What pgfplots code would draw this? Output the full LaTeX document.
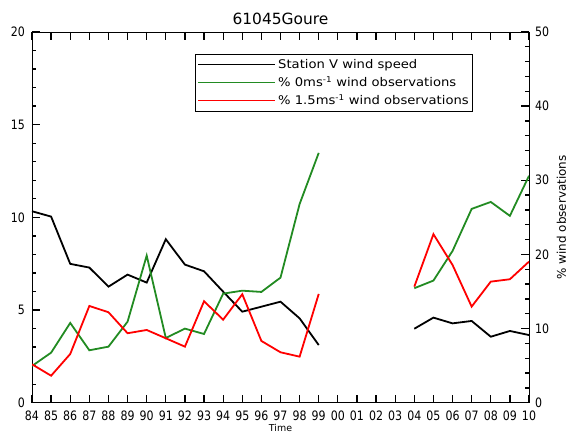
\documentclass[border=0pt]{standalone}
\usepackage{fontspec}
\setmainfont{DejaVu Sans}
\newfontfamily\legfont[FakeStretch=1.1]{DejaVu Sans}
\newfontfamily\tickfont[FakeStretch=0.85]{DejaVu Sans}
\usepackage{pgfplots}
\pgfplotsset{compat=1.18}
\definecolor{grn}{RGB}{34,139,34}
\pgfplotsset{
  mytick/.style={
    tick align=inside,
    major tick length=8bp, minor tick length=4.5bp,
    axis line style={line width=0.9bp},
    every tick/.append style={line width=1.3bp, black, draw=black},
    every major tick/.append style={line width=1.3bp, black, draw=black},
    every minor tick/.append style={line width=1.3bp, black, draw=black},
    /pgf/number format/assume math mode=true,
    tick label style={font=\tickfont\fontsize{13}{15}\selectfont},
  }
}
\begin{document}
\begin{tikzpicture}
\path[use as bounding box] (-32bp,-33.3bp) rectangle (537bp,402.7bp);
\begin{axis}[
  at={(0,0)}, anchor=south west,
  scale only axis, width=497bp, height=370.7bp,
  xmin=0, xmax=26, ymin=0, ymax=20,
  xtick={0,...,26},
  xticklabels={84,85,86,87,88,89,90,91,92,93,94,95,96,97,98,99,00,01,02,03,04,05,06,07,08,09,10},
  ytick={0,5,10,15,20},
  minor y tick num=4,
  xtick pos=both, ytick pos=left,
  mytick,
  xticklabel style={yshift=-5bp},
  yticklabel style={xshift=-3.5bp},
  title={61045Goure},
  title style={at={(axis description cs:0.5,1)}, anchor=base, yshift=2bp, font=\fontsize{15.5}{18}\selectfont},
  xlabel={Time},
  xlabel style={at={(axis description cs:0.5,0)}, anchor=center, yshift=-25.5bp, font=\fontsize{9.5}{11}\selectfont},
  unbounded coords=jump,
  legend style={at={(rel axis cs:0.328,0.941)}, anchor=north west, draw=black, line width=0.8bp,
    font=\legfont\fontsize{12}{14}\selectfont, inner xsep=2bp, inner ysep=3bp, row sep=2.5bp},
  legend cell align=left,
  legend image code/.code={\path (-11bp,0bp) -- (66bp,0bp); \draw[#1, line width=1.2bp] (0bp,0bp) -- (58bp,0bp);},
]
\addplot[black, line width=1.8bp] coordinates {
(0,10.33) (1,10.04) (2,7.49) (3,7.29) (4,6.26) (5,6.91) (6,6.48) (7,8.82) (8,7.45) (9,7.09)
(10,5.99) (11,4.91) (12,5.18) (13,5.45) (14,4.55) (15,3.11)
(16,nan) (17,nan) (18,nan) (19,nan)
(20,3.99) (21,4.59) (22,4.28) (23,4.41) (24,3.56) (25,3.87) (26,3.65)};
\addlegendentry{Station V wind speed}
\addlegendimage{grn}
\addlegendentry{\% 0ms\textsuperscript{-1} wind observations}
\addlegendimage{red}
\addlegendentry{\% 1.5ms\textsuperscript{-1} wind observations}
\end{axis}
\begin{axis}[
  at={(0,0)}, anchor=south west,
  scale only axis, width=497bp, height=370.7bp,
  xmin=0, xmax=26, ymin=0, ymax=50,
  axis x line=none,
  axis y line*=right,
  ytick={0,10,20,30,40,50},
  minor y tick num=4,
  mytick,
  yticklabel style={xshift=2.5bp},
  ylabel={\% wind observations},
  ylabel style={at={(axis description cs:1,0.5)}, anchor=center, rotate=0, yshift=-32.5bp, font=\fontsize{12}{14}\selectfont},
  unbounded coords=jump,
]
\addplot[grn, line width=1.8bp] coordinates {
(0,4.95) (1,6.75) (2,10.76) (3,7.07) (4,7.56) (5,10.93) (6,19.84) (7,8.73) (8,9.99) (9,9.27)
(10,14.71) (11,15.11) (12,14.94) (13,16.87) (14,26.8) (15,33.7)
(16,nan) (17,nan) (18,nan) (19,nan)
(20,15.44) (21,16.47) (22,20.47) (23,26.14) (24,27.08) (25,25.2) (26,30.6)};
\addplot[red, line width=1.8bp] coordinates {
(0,5.18) (1,3.64) (2,6.57) (3,13.05) (4,12.2) (5,9.37) (6,9.81) (7,8.69) (8,7.56) (9,13.68)
(10,11.2) (11,14.63) (12,8.33) (13,6.8) (14,6.21) (15,14.67)
(16,nan) (17,nan) (18,nan) (19,nan)
(20,15.65) (21,22.73) (22,18.58) (23,12.96) (24,16.33) (25,16.65) (26,19.03)};
\end{axis}
\end{tikzpicture}
\end{document}
